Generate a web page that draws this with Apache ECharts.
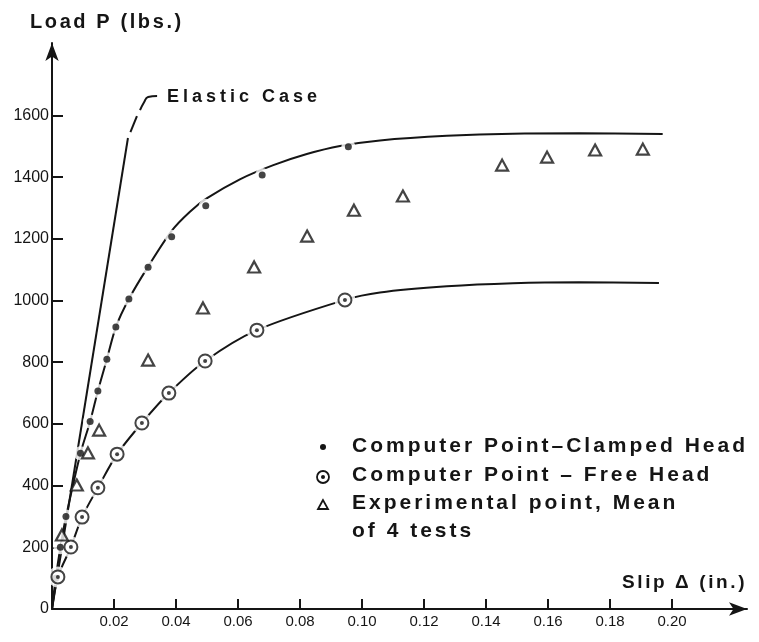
<!DOCTYPE html>
<html>
<head>
<meta charset="utf-8">
<script src="https://cdn.jsdelivr.net/npm/echarts@6/dist/echarts.min.js"></script>
<style>
html,body{margin:0;padding:0;background:#fff;}
#chart{width:759px;height:642px;}
</style>
</head>
<body>
<div id="chart"></div>
<script>
// ---- data ----
const xTickValues = [0.02, 0.04, 0.06, 0.08, 0.10, 0.12, 0.14, 0.16, 0.18, 0.20];
const yTickValues = [0, 200, 400, 600, 800, 1000, 1200, 1400, 1600];

const clampedPoints = [
  [0.0012, 100], [0.0027, 200], [0.0045, 300], [0.0092, 505], [0.0123, 608],
  [0.0148, 707], [0.0177, 810], [0.0206, 914], [0.0248, 1005], [0.031, 1108],
  [0.0386, 1207], [0.0496, 1307], [0.0678, 1407], [0.0956, 1499]
];
const clampedCurve = [
  [0, 0], [0.0012, 100], [0.0027, 200], [0.0045, 298], [0.0092, 505], [0.0123, 608],
  [0.0148, 707], [0.0177, 810], [0.0206, 914], [0.0248, 1005], [0.031, 1110],
  [0.0386, 1226], [0.0445, 1288], [0.0499, 1331], [0.0606, 1393], [0.0714, 1439],
  [0.0822, 1475], [0.0929, 1501], [0.1058, 1519], [0.1274, 1534], [0.1487, 1541],
  [0.170, 1542], [0.197, 1540]
];

const freePoints = [
  [0.0019, 104], [0.0061, 201], [0.0097, 298], [0.0148, 393], [0.021, 502],
  [0.029, 603], [0.0377, 700], [0.0494, 804], [0.0661, 904], [0.0945, 1002]
];
const freeCurve = [
  [0, 0], [0.0019, 104], [0.0061, 201], [0.0097, 298], [0.0148, 393], [0.021, 502],
  [0.029, 603], [0.0377, 700], [0.0494, 804], [0.0661, 904], [0.0945, 1002],
  [0.1058, 1026], [0.1274, 1046], [0.1487, 1056], [0.170, 1059], [0.1958, 1057]
];

const experimentalPoints = [
  [0.0032, 240], [0.008, 402], [0.0116, 506], [0.0152, 580], [0.031, 807],
  [0.0487, 976], [0.0652, 1109], [0.0823, 1209], [0.0974, 1293], [0.1132, 1339],
  [0.1452, 1439], [0.1597, 1465], [0.1752, 1488], [0.1906, 1491]
];

const elasticLine = [[0, 0], [0.0245, 1527]];
const elasticDash = [[0.0253, 1546], [0.0274, 1598]];
const elasticLeader = [[0.0284, 1617], [0.0297, 1643], [0.031, 1660], [0.0339, 1663]];

const xAxisTitle = 'Slip Δ (in.)';
const yAxisTitle = 'Load P (lbs.)';
const elasticLabel = 'Elastic Case';
const legendLabels = ['Computer Point–Clamped Head', 'Computer Point – Free Head', 'Experimental point, Mean', 'of 4 tests'];

// ---- letter spacing of the typewritten captions (presentation only) ----
const captionSpacing = new Map([
  [yAxisTitle, '2.6px'], [xAxisTitle, '2.6px'], [elasticLabel, '4px'],
  [legendLabels[0], '3px'], [legendLabels[1], '3px'], [legendLabels[2], '3px'], [legendLabels[3], '3px']
]);
(function () {
  const proto = CanvasRenderingContext2D.prototype;
  if (!('letterSpacing' in proto)) return;
  const origFill = proto.fillText;
  proto.fillText = function (t) {
    const ls = captionSpacing.get(t) || '0px';
    if (this.letterSpacing !== ls) {
      this.letterSpacing = ls;
      const f = this.font;
      this.font = f;
    }
    return origFill.apply(this, arguments);
  };
})();

// ---- chart ----
const INK = '#151515';
const CAPTION = '"Liberation Sans", Arial, sans-serif';
const chart = echarts.init(document.getElementById('chart'), null, {renderer: 'canvas'});

const lineBase = {type: 'line', symbol: 'none', silent: true, animation: false, z: 2};

chart.setOption({
  backgroundColor: '#ffffff',
  animation: false,
  grid: {left: 52, right: 12, top: 43, bottom: 33, containLabel: false},
  xAxis: {
    type: 'value', min: 0, max: 0.2242, interval: 0.02,
    splitLine: {show: false},
    axisLine: {show: true, symbol: ['none', 'arrow'], symbolSize: [10, 18], lineStyle: {color: INK, width: 2}},
    axisTick: {show: true, inside: true, length: 10, customValues: xTickValues, lineStyle: {color: INK, width: 2}},
    axisLabel: {show: true, customValues: xTickValues, margin: 5, color: INK,
      fontFamily: '"Liberation Sans", sans-serif', fontSize: 15,
      formatter: v => v.toFixed(2)}
  },
  yAxis: {
    type: 'value', min: 0, max: 1835, interval: 200,
    splitLine: {show: false},
    axisLine: {show: true, symbol: ['none', 'arrow'], symbolSize: [10, 18], lineStyle: {color: INK, width: 2}},
    axisTick: {show: true, inside: true, length: 11, customValues: yTickValues.filter(v => v > 0), lineStyle: {color: INK, width: 2}},
    axisLabel: {show: true, customValues: yTickValues, margin: 3, color: INK,
      fontFamily: '"Liberation Sans", sans-serif', fontSize: 16,
      formatter: v => String(v)}
  },
  series: [
    Object.assign({}, lineBase, {name: 'elastic', data: elasticLine, lineStyle: {color: INK, width: 2}}),
    Object.assign({}, lineBase, {name: 'elasticDash', data: elasticDash, lineStyle: {color: INK, width: 2}}),
    Object.assign({}, lineBase, {name: 'leader', data: elasticLeader, smooth: true, lineStyle: {color: INK, width: 2}}),
    Object.assign({}, lineBase, {name: 'clampedCurve', data: clampedCurve, smooth: 0.3, lineStyle: {color: INK, width: 2}}),
    Object.assign({}, lineBase, {name: 'freeCurve', data: freeCurve, smooth: 0.3, lineStyle: {color: INK, width: 2}}),
    // white halos (gaps in the curve around each marker)
    {type: 'scatter', data: clampedPoints, symbol: 'circle', symbolSize: 14, silent: true, z: 3,
      itemStyle: {color: '#fff'}},
    {type: 'scatter', data: freePoints, symbol: 'circle', symbolSize: 21, silent: true, z: 3,
      itemStyle: {color: '#fff'}},
    // markers
    {type: 'scatter', name: 'Computer Point–Clamped Head', data: clampedPoints, symbol: 'circle', symbolSize: 7, z: 4,
      itemStyle: {color: INK}},
    {type: 'scatter', name: 'Computer Point – Free Head', data: freePoints, symbol: 'circle', symbolSize: 13, z: 4,
      itemStyle: {color: '#fff', borderColor: INK, borderWidth: 2}},
    {type: 'scatter', data: freePoints, symbol: 'circle', symbolSize: 4, z: 5, silent: true,
      itemStyle: {color: INK}},
    {type: 'scatter', name: 'Experimental point', data: experimentalPoints, symbol: 'triangle', symbolSize: [12, 11], z: 4,
      itemStyle: {color: '#fff', borderColor: INK, borderWidth: 2.2}}
  ],
  graphic: [
    {type: 'text', left: 30, top: 12, style: {text: yAxisTitle, font: 'bold 20px ' + CAPTION, fill: INK}},
    {type: 'text', left: 622, top: 573, style: {text: xAxisTitle, font: 'bold 19px ' + CAPTION, fill: INK}},
    {type: 'text', left: 167, top: 88, style: {text: elasticLabel, font: 'bold 18px ' + CAPTION, fill: INK}},
    // legend
    {type: 'circle', shape: {cx: 323, cy: 447, r: 3}, style: {fill: INK}},
    {type: 'circle', shape: {cx: 323, cy: 477, r: 6}, style: {fill: '#fff', stroke: INK, lineWidth: 1.8}},
    {type: 'circle', shape: {cx: 323, cy: 477, r: 2}, style: {fill: INK}},
    {type: 'polygon', shape: {points: [[323, 500], [318, 509], [328, 509]]}, style: {fill: '#fff', stroke: INK, lineWidth: 1.8}},
    {type: 'text', left: 352, top: 436, style: {text: legendLabels[0], font: 'bold 21px ' + CAPTION, fill: INK}},
    {type: 'text', left: 352, top: 465, style: {text: legendLabels[1], font: 'bold 21px ' + CAPTION, fill: INK}},
    {type: 'text', left: 352, top: 493, style: {text: legendLabels[2], font: 'bold 21px ' + CAPTION, fill: INK}},
    {type: 'text', left: 352, top: 521, style: {text: legendLabels[3], font: 'bold 21px ' + CAPTION, fill: INK}}
  ]
});
</script>
</body>
</html>
